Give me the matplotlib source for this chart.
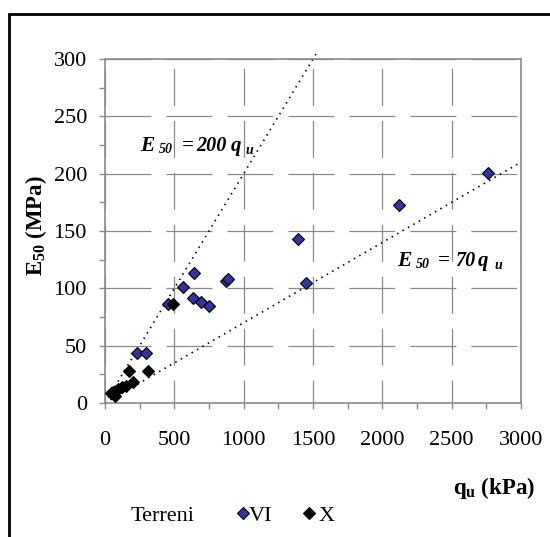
import matplotlib
matplotlib.use("Agg")
import matplotlib.pyplot as plt
from matplotlib.lines import Line2D
from matplotlib.patches import Rectangle
from matplotlib.ticker import MultipleLocator

# Unconfined compressive strength q_u (kPa) and secant modulus E50 (MPa)
qu_vi = [228, 293, 455, 565, 644, 637, 692, 752, 870, 885, 1390, 1450, 2122, 2760]
e50_vi = [44, 44, 86, 101, 113, 92, 88, 85, 106, 108, 143, 105, 173, 201]

qu_x = [40, 60, 75, 95, 120, 150, 170, 205, 310, 490]
e50_x = [9, 10, 6, 12, 14, 15, 28, 18, 28, 86]

# Reference trend lines E50 = k * q_u (q_u in kPa -> MPa)
k_upper = 200
k_lower = 70
qu_upper_end = 1525
qu_lower_end = 3000

x_ticks = [0, 500, 1000, 1500, 2000, 2500, 3000]
y_ticks = [0, 50, 100, 150, 200, 250, 300]

plt.rcParams["font.family"] = ["Liberation Serif", "DejaVu Serif"]
plt.rcParams["lines.scale_dashes"] = False
plt.rcParams["mathtext.fontset"] = "custom"
plt.rcParams["mathtext.rm"] = "Liberation Serif"
plt.rcParams["mathtext.bf"] = "Liberation Serif:bold"
plt.rcParams["mathtext.it"] = "Liberation Serif:italic"

W, H = 550, 537
fig = plt.figure(figsize=(W / 100, H / 100), dpi=100)


def fx(px):
    return px / W


def fy(py):
    return 1 - py / H


ax = fig.add_axes([fx(105), fy(403), (521 - 105) / W, (403 - 59) / H])

grey = "#8a8a8a"
ax.set_xlim(0, 3000)
ax.set_ylim(0, 300)
ax.xaxis.set_minor_locator(MultipleLocator(250))
ax.yaxis.set_minor_locator(MultipleLocator(25))
ax.set_xticks(x_ticks)
ax.set_yticks(y_ticks)

for s in ax.spines.values():
    s.set_color(grey)
    s.set_linewidth(1.2)

ax.tick_params(which="both", direction="out", color=grey, width=1.0,
               length=4.5)
ax.tick_params(axis="x", which="major", pad=16, labelsize=16)
ax.tick_params(axis="y", which="major", pad=8.5, labelsize=16)

# broken grid lines
ax.yaxis.grid(True, which="major", color=grey, linewidth=0.9,
              linestyle=(0, (33.1, 10.8)))
ax.xaxis.grid(True, which="major", color=grey, linewidth=0.9,
              linestyle=(10.1, (26.6, 10.8)))
ax.set_axisbelow(True)

# trend lines
dots = (0, (1.1, 3.4))
ax.plot([0, qu_upper_end], [0, k_upper * qu_upper_end / 1000],
        color="black", linestyle=dots, linewidth=1.2, clip_on=False, zorder=2)
ax.plot([0, qu_lower_end], [0, k_lower * qu_lower_end / 1000],
        color="black", linestyle=dots, linewidth=1.2, clip_on=False, zorder=2)

ax.plot(qu_vi, e50_vi, linestyle="none", marker="D", markersize=6.5,
        markerfacecolor="#333399", markeredgecolor="black",
        markeredgewidth=0.8, zorder=3, clip_on=False)
ax.plot(qu_x, e50_x, linestyle="none", marker="D", markersize=6.5,
        markerfacecolor="black", markeredgecolor="black",
        markeredgewidth=0.8, zorder=4, clip_on=False)

# equation labels
eq = dict(fontweight="bold", fontstyle="italic", va="baseline", ha="left")
fig.text(fx(140), fy(151), "E", fontsize=15.5, **eq)
fig.text(fx(158.5), fy(153), "50", fontsize=10, **eq)
fig.text(fx(181.5), fy(151), "=", fontsize=15, **eq)
fig.text(fx(196.5), fy(151), "200", fontsize=14.5, **eq)
fig.text(fx(231), fy(151), "q", fontsize=15, **eq)
fig.text(fx(245), fy(154), "u", fontsize=10, **eq)

fig.text(fx(397), fy(266), "E", fontsize=15.5, **eq)
fig.text(fx(415.5), fy(268), "50", fontsize=10, **eq)
fig.text(fx(438), fy(266), "=", fontsize=15, **eq)
fig.text(fx(455.5), fy(266), "70", fontsize=14.5, **eq)
fig.text(fx(478), fy(266), "q", fontsize=15, **eq)
fig.text(fx(494), fy(269), "u", fontsize=10, **eq)

# axis titles
fig.text(fx(36), fy(226), r"$\mathbf{E_{50}\ (MPa)}$", rotation=90,
         fontsize=16.5, ha="center", va="center")
fig.text(fx(453), fy(494), r"$\mathbf{q_{u}\ (kPa)}$", fontsize=16.5,
         ha="left", va="baseline")

# legend
fig.text(fx(131), fy(521), "Terreni", fontsize=16, ha="left", va="baseline")
fig.add_artist(Line2D([fx(243)], [fy(513)], transform=fig.transFigure,
                      marker="D", markersize=5.8, markerfacecolor="#333399",
                      markeredgecolor="black", markeredgewidth=0.8,
                      linestyle="none"))
fig.text(fx(249), fy(521), "VI", fontsize=16, ha="left", va="baseline")
fig.add_artist(Line2D([fx(309)], [fy(513)], transform=fig.transFigure,
                      marker="D", markersize=5.8, markerfacecolor="black",
                      markeredgecolor="black", markeredgewidth=0.8,
                      linestyle="none"))
fig.text(fx(319), fy(521), "X", fontsize=16, ha="left", va="baseline")

# outer frame
fig.add_artist(Rectangle((fx(8.5), fy(H + 20)), 1.2, (H + 20 - 13.5) / H,
                         transform=fig.transFigure, fill=False,
                         edgecolor="black", linewidth=2.0, clip_on=False))

fig.savefig("out.png", dpi=100)
